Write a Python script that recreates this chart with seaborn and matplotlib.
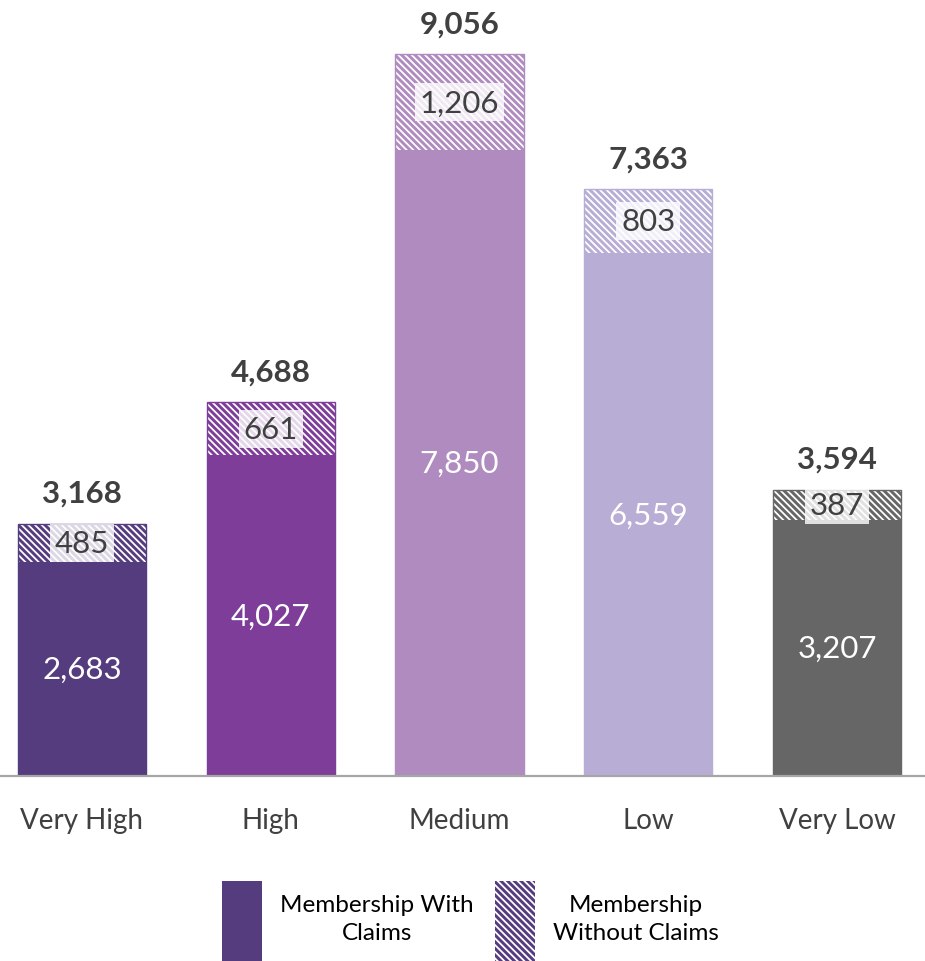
import matplotlib
matplotlib.use("Agg")
import matplotlib.pyplot as plt
from matplotlib.patches import Patch
import seaborn as sns
import pandas as pd

categories = ["Very High", "High", "Medium", "Low", "Very Low"]
with_claims = [2683, 4027, 7850, 6559, 3207]
without_claims = [485, 661, 1206, 803, 387]
totals = [3168, 4688, 9056, 7363, 3594]
colors = ["#553C7F", "#7D3D98", "#B08BBF", "#B7ADD5", "#666666"]

HATCH = "\\" * 5

sns.set_theme(style="white")
plt.rcParams["font.family"] = ["Lato", "DejaVu Sans"]
plt.rcParams["hatch.linewidth"] = 2.1

df = pd.DataFrame({
    "category": categories,
    "with_claims": with_claims,
    "stack_top": [a + b for a, b in zip(with_claims, without_claims)],
})
palette = dict(zip(categories, colors))

fig = plt.figure(figsize=(9.25, 9.62), dpi=100)
ax = fig.add_axes([0, 185 / 962, 1, 777 / 962])

# full stack height, hatched (membership without claims shows above)
sns.barplot(data=df, x="category", y="stack_top", hue="category", order=categories,
            palette=palette, width=0.68, legend=False, ax=ax, saturation=1)
for patch, c in zip(ax.patches, colors):
    patch.set_facecolor("white")
    patch.set_edgecolor(c)
    patch.set_hatch(HATCH)
    patch.set_linewidth(1.0)
n_top = len(ax.patches)

# solid segment for membership with claims
sns.barplot(data=df, x="category", y="with_claims", hue="category", order=categories,
            palette=palette, width=0.68, legend=False, ax=ax, saturation=1)
for patch, c in zip(ax.patches[n_top:], colors):
    patch.set_facecolor(c)
    patch.set_edgecolor(c)
    patch.set_linewidth(0)

ax.set_xlim(-0.434, 4.466)
ax.set_ylim(0, 9749)

txt_dark = "#404040"
for i, (a, b, t) in enumerate(zip(with_claims, without_claims, totals)):
    ax.text(i, a / 2, f"{a:,}", ha="center", va="center", color="white", fontsize=22.5)
    ax.text(i, a + b / 2, f"{b:,}", ha="center", va="center", color=txt_dark, fontsize=22.5,
            bbox=dict(facecolor="white", alpha=0.8, edgecolor="none", pad=3.5))
    ax.annotate(f"{t:,}", xy=(i, a + b), xytext=(0, 12), textcoords="offset points",
                ha="center", va="bottom", color=txt_dark, fontsize=22.5, fontweight="bold")

for side in ["top", "left", "right"]:
    ax.spines[side].set_visible(False)
ax.spines["bottom"].set_color("#A6A6A6")
ax.spines["bottom"].set_linewidth(1.6)
ax.set_yticks([])
ax.set_xlabel("")
ax.set_ylabel("")
ax.tick_params(axis="x", length=0, pad=22, labelsize=20, labelcolor=txt_dark)

handles = [
    Patch(facecolor=colors[0], edgecolor=colors[0], linewidth=0),
    Patch(facecolor="white", edgecolor=colors[0], hatch=HATCH, linewidth=0),
]
labels = ["Membership With\nClaims", "Membership\nWithout Claims"]
leg = fig.legend(handles, labels, loc="lower center", bbox_to_anchor=(0.5 + 8 / 925, 0.0),
                 ncol=2, frameon=False, fontsize=17.5, handlelength=1.65, handleheight=4.7,
                 handletextpad=0.75, columnspacing=0.85, borderpad=0, borderaxespad=0)
for t in leg.get_texts():
    t.set_multialignment("center")
    t.set_linespacing(1.4)
    t.set_color("black")

fig.savefig("out.png", dpi=100)
